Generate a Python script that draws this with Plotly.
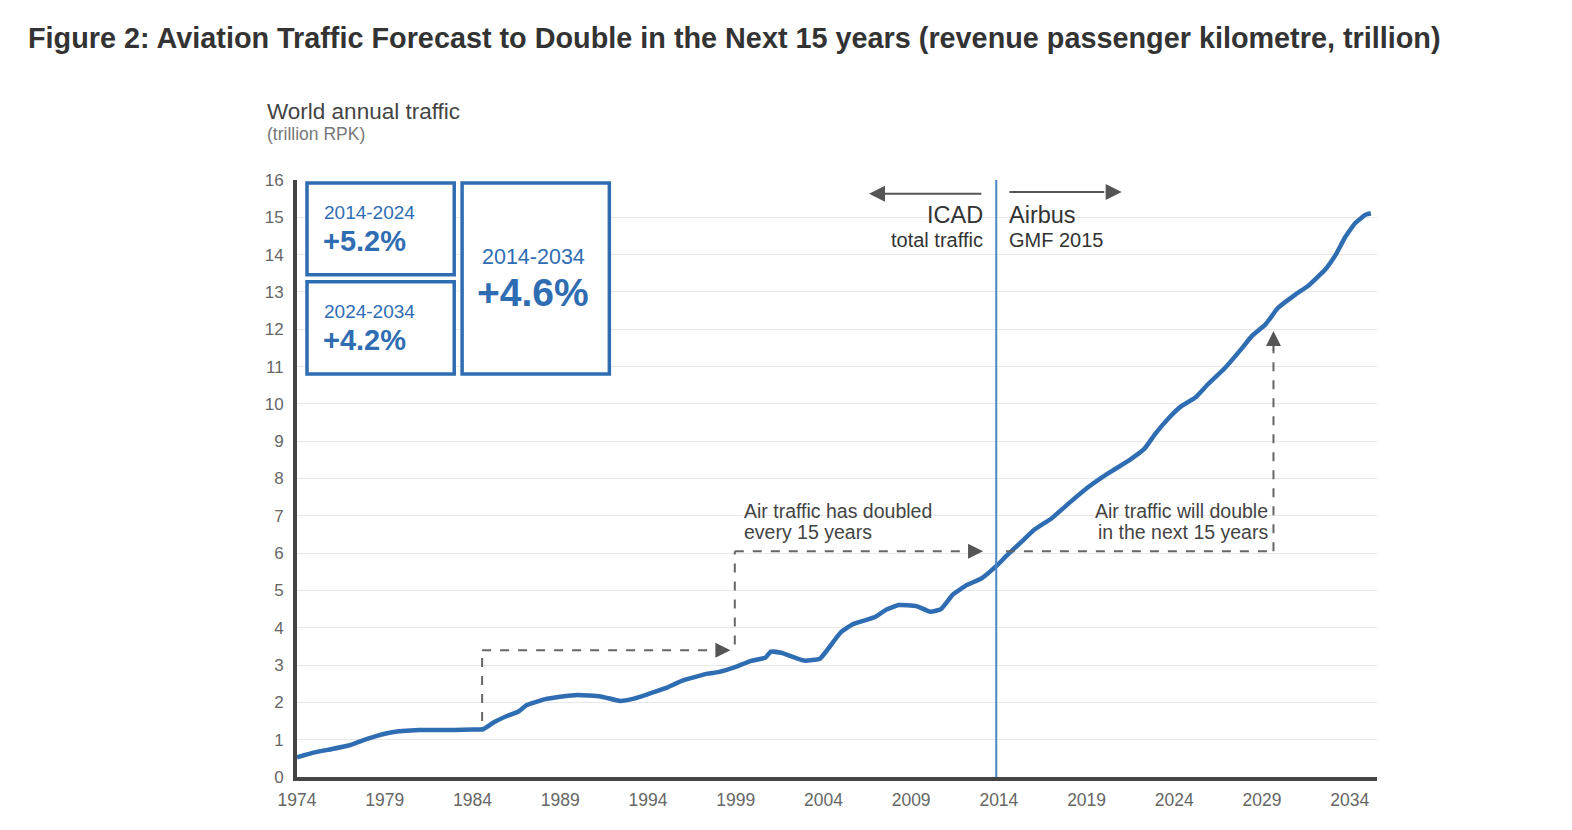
import plotly.graph_objects as go

# ── Data (trillion RPK) ────────────────────────────────────
years = [1974.0, 1975.0, 1976.0, 1977.0, 1978.0, 1979.0, 1980.0, 1981.0,
         1982.0, 1983.0, 1984.0, 1984.6, 1985.2, 1986.0, 1986.6, 1987.1,
         1988.1, 1989.0, 1990.0, 1991.3, 1992.4, 1993.2, 1994.0, 1995.0,
         1996.0, 1997.4, 1998.0, 1999.0, 1999.8, 2000.7, 2001.0, 2001.6,
         2002.9, 2003.8, 2004.2, 2005.0, 2005.7, 2006.9, 2007.6, 2008.3,
         2009.3, 2010.1, 2010.7, 2011.4, 2012.2, 2013.0, 2014.0, 2014.4,
         2015.3, 2016.0, 2017.0, 2018.1, 2019.1, 2020.2, 2021.4, 2022.3,
         2022.9, 2023.7, 2024.4, 2025.2, 2025.9, 2026.9, 2027.8, 2028.4,
         2029.2, 2029.9, 2030.9, 2031.6, 2032.1, 2032.6, 2033.2, 2033.7,
         2034.3, 2034.9, 2035.2]
rpk = [0.53, 0.66, 0.75, 0.85, 1.02, 1.16, 1.23, 1.26,
       1.26, 1.26, 1.27, 1.28, 1.46, 1.64, 1.75, 1.93,
       2.08, 2.15, 2.20, 2.16, 2.04, 2.10, 2.22, 2.38,
       2.59, 2.77, 2.81, 2.95, 3.10, 3.20, 3.36, 3.33,
       3.12, 3.17, 3.39, 3.88, 4.10, 4.28, 4.49, 4.61,
       4.58, 4.43, 4.50, 4.90, 5.15, 5.32, 5.72, 5.91,
       6.31, 6.62, 6.93, 7.38, 7.77, 8.13, 8.48, 8.80,
       9.19, 9.63, 9.94, 10.17, 10.52, 10.97, 11.46, 11.81,
       12.13, 12.57, 12.93, 13.15, 13.37, 13.60, 14.00, 14.44,
       14.84, 15.07, 15.11]

x_ticks = list(range(1974, 2035, 5))
x_labels = [str(v) for v in x_ticks]
y_ticks = list(range(0, 17))

growth_boxes = [("2014-2024", "+5.2%"), ("2024-2034", "+4.2%"), ("2014-2034", "+4.6%")]

# ── Geometry / colours ─────────────────────────────────────
OFF = 8                       # page body margin of the exported html
W, H = 1572 - OFF, 830 - OFF
L, R, T, B = 289, 195, 172, 53
PW, PH = W - L - R, H - T - B

BLUE = "#2f6db3"
DARK = "#444444"
GREY = "#666666"
FONT = "Liberation Sans"


def px(xp):
    """screen x (reference pixels) -> paper x"""
    return (xp - OFF - L) / PW


def py(yp):
    """screen y (reference pixels) -> paper y"""
    return (H - B - (yp - OFF)) / PH


fig = go.Figure()

fig.add_trace(go.Scatter(
    x=years, y=rpk, mode="lines",
    line=dict(color=BLUE, width=4.5, shape="spline", smoothing=0.4),
    hoverinfo="skip", showlegend=False,
))

shapes = []
annotations = []


def text(x, y, s, size, color=DARK, anchor="left"):
    annotations.append(dict(x=x, y=y, xref="x", yref="y",
                            text=s, showarrow=False, xanchor=anchor, yanchor="middle",
                            font=dict(family=FONT, size=size, color=color)))


def arrow(head, tail, size=1.5):
    annotations.append(dict(x=head[0], y=head[1], ax=tail[0], ay=tail[1], xref="x", yref="y",
                            axref="x", ayref="y", text="", showarrow=True,
                            arrowhead=2, arrowsize=size, arrowwidth=2, arrowcolor="#555555"))


# ── Growth boxes ───────────────────────────────────────────
box_rects = [(1974.57, 1982.96, 13.46, 15.92),
             (1974.57, 1982.96, 10.80, 13.27),
             (1983.41, 1991.80, 10.80, 15.92)]
for x0, x1, y0, y1 in box_rects:
    shapes.append(dict(type="rect", xref="x", yref="y", x0=x0, x1=x1, y0=y0, y1=y1,
                       line=dict(color=BLUE, width=3.5), fillcolor="white", layer="above"))

small = [(1975.4, 15.12, 14.37), (1975.4, 12.47, 11.72)]
for (period, pct), (xa, ys, yb) in zip(growth_boxes[:2], small):
    text(xa, ys, period, 19, BLUE)
    text(xa - 0.05, yb, f"<b>{pct}</b>", 29, BLUE)
period, pct = growth_boxes[2]
text(1987.45, 13.94, period, 21.5, BLUE, anchor="center")
text(1987.45, 12.98, f"<b>{pct}</b>", 39, BLUE, anchor="center")

# ── 2014 divider and top labels ────────────────────────────
shapes.append(dict(type="line", xref="x", yref="y", x0=2013.85, x1=2013.85, y0=0, y1=16.15,
                   line=dict(color="#4a86c8", width=2)))
shapes.append(dict(type="line", xref="x", yref="y", x0=2013.0, x1=2007.5, y0=15.63, y1=15.63,
                   line=dict(color="#555555", width=2)))
shapes.append(dict(type="line", xref="x", yref="y", x0=2014.6, x1=2020.0, y0=15.68, y1=15.68,
                   line=dict(color="#555555", width=2)))
arrow((2006.6, 15.63), (2007.6, 15.63), 1.6)
arrow((2021.0, 15.68), (2020.0, 15.68), 1.6)
text(2013.2, 15.07, "ICAD", 23.5, "#333333", anchor="right")
text(2013.2, 14.40, "total traffic", 20, "#333333", anchor="right")
text(2014.45, 15.07, "Airbus", 23.5, "#333333")
text(2014.45, 14.40, "GMF 2015", 20, "#333333")

# ── Doubling guides (dashed) ───────────────────────────────
DASH = dict(color="#666666", width=2, dash="dash")
guides = [
    (1984.55, 1.50, 1984.55, 3.40), (1984.55, 3.40, 1998.1, 3.40),
    (1998.95, 3.55, 1998.95, 6.05), (1998.95, 6.05, 2012.5, 6.05),
    (2014.4, 6.05, 2029.65, 6.05), (2029.65, 6.05, 2029.65, 11.45),
]
for x0, y0, x1, y1 in guides:
    shapes.append(dict(type="line", xref="x", yref="y", x0=x0, y0=y0, x1=x1, y1=y1, line=DASH))
arrow((1998.7, 3.40), (1998.0, 3.40))
arrow((2013.1, 6.05), (2012.4, 6.05))
arrow((2029.65, 11.95), (2029.65, 11.4))

text(1999.35, 7.13, "Air traffic has doubled", 19.5)
text(1999.35, 6.57, "every 15 years", 19.5)
text(2029.45, 7.13, "Air traffic will double", 19.5, anchor="right")
text(2029.45, 6.57, "in the next 15 years", 19.5, anchor="right")

# ── Titles ─────────────────────────────────────────────────
annotations += [
    dict(x=px(26), y=py(38), xref="paper", yref="paper", showarrow=False,
         xanchor="left", yanchor="middle",
         text="<b>Figure 2: Aviation Traffic Forecast to Double in the Next 15 years "
              "(revenue passenger kilometre, trillion)</b>",
         font=dict(family=FONT, size=28.8, color="#333333")),
    dict(x=px(265), y=py(111), xref="paper", yref="paper", showarrow=False,
         xanchor="left", yanchor="middle", text="World annual traffic",
         font=dict(family=FONT, size=22.5, color=DARK)),
    dict(x=px(265), y=py(134), xref="paper", yref="paper", showarrow=False,
         xanchor="left", yanchor="middle", text="(trillion RPK)",
         font=dict(family=FONT, size=17.5, color="#777777")),
]

fig.update_layout(
    width=W, height=H,
    margin=dict(l=L, r=R, t=T, b=B),
    paper_bgcolor="white", plot_bgcolor="white",
    showlegend=False,
    shapes=shapes, annotations=annotations,
)
fig.update_xaxes(
    range=[1974, 2035.55], tickvals=x_ticks, ticktext=x_labels,
    showgrid=False, zeroline=False,
    showline=True, linewidth=4, linecolor=DARK,
    ticks="", ticklabelstandoff=4,
    tickfont=dict(family=FONT, size=17.5, color=GREY),
)
fig.update_yaxes(
    range=[0, 16], tickvals=y_ticks,
    showgrid=True, gridcolor="#e8e8e8", gridwidth=1, zeroline=False,
    showline=True, linewidth=4, linecolor=DARK,
    ticks="", ticklabelstandoff=6,
    tickfont=dict(family=FONT, size=17, color=GREY),
)

fig.write_html("out.html")
